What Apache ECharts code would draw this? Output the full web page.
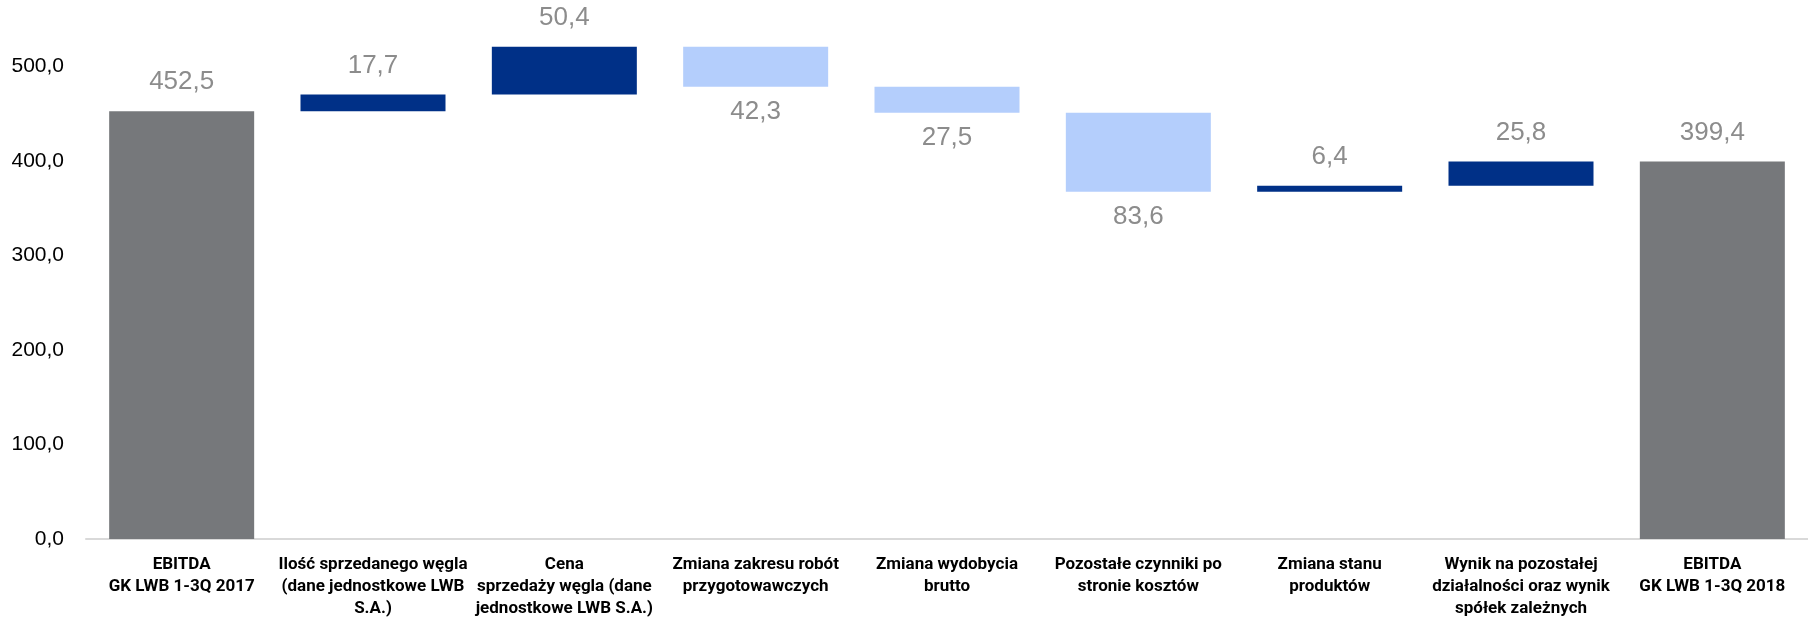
<!DOCTYPE html>
<html>
<head>
<meta charset="utf-8">
<script src="https://cdn.jsdelivr.net/npm/echarts@6/dist/echarts.min.js"></script>
<style>
  html, body { margin: 0; padding: 0; background: #fff; }
  #chart { width: 1808px; height: 620px; }
</style>
</head>
<body>
<div id="chart"></div>
<script>
// EBITDA GK LWB - mostek 1-3Q 2017 -> 1-3Q 2018 (mln zł)
const categories = [
  "EBITDA\nGK LWB 1-3Q 2017",
  "Ilość sprzedanego węgla\n(dane jednostkowe LWB\nS.A.)",
  "Cena\nsprzedaży węgla (dane\njednostkowe LWB S.A.)",
  "Zmiana zakresu robót\nprzygotowawczych",
  "Zmiana wydobycia\nbrutto",
  "Pozostałe czynniki po\nstronie kosztów",
  "Zmiana stanu\nproduktów",
  "Wynik na pozostałej\ndziałalności oraz wynik\nspółek zależnych",
  "EBITDA\nGK LWB 1-3Q 2018"
];
// zmiany (pierwsza i ostatnia pozycja to sumy)
const changes = [452.5, 17.7, 50.4, -42.3, -27.5, -83.6, 6.4, 25.8, 399.4];
const isTotal = [true, false, false, false, false, false, false, false, true];
const yTicks = [0, 100, 200, 300, 400, 500];

const fmt = v => v.toFixed(1).replace(".", ",");

// podstawy (niewidoczne) i słupki wg typu
const base = [], totals = [], ups = [], downs = [];
let level = 0;
changes.forEach((c, i) => {
  if (isTotal[i]) {
    base.push(0); totals.push(c); ups.push("-"); downs.push("-");
    level = c;
  } else if (c >= 0) {
    base.push(level); totals.push("-"); ups.push(c); downs.push("-");
    level += c;
  } else {
    level += c;
    base.push(level); totals.push("-"); ups.push("-"); downs.push(-c);
  }
});

const labelStyle = {
  show: true,
  color: "#8c8c8c",
  fontSize: 26,
  fontFamily: "Liberation Sans",
  formatter: p => fmt(p.value)
};

const chart = echarts.init(document.getElementById("chart"));
chart.setOption({
  animation: false,
  grid: { left: 86, right: 0, top: 19, bottom: 80 },
  xAxis: {
    type: "category",
    data: categories,
    axisTick: { show: false },
    axisLine: { lineStyle: { color: "#d9d9d9", width: 2 } },
    axisLabel: {
      interval: 0,
      margin: 15,
      color: "#000",
      fontWeight: "bold",
      fontSize: 17,
      lineHeight: 22,
      fontFamily: "Roboto, sans-serif"
    }
  },
  yAxis: {
    type: "value",
    min: 0,
    max: 550,
    interval: 100,
    splitLine: { show: false },
    axisLine: { show: false },
    axisTick: { show: false },
    axisLabel: {
      margin: 22,
      color: "#000",
      fontSize: 21,
      fontFamily: "Liberation Sans",
      formatter: v => (yTicks.includes(v) ? fmt(v) : "")
    }
  },
  series: [
    {
      name: "podstawa", type: "bar", stack: "w", data: base,
      barWidth: 145, itemStyle: { color: "transparent" }, silent: true
    },
    {
      name: "EBITDA", type: "bar", stack: "w", data: totals,
      itemStyle: { color: "#76787b" },
      label: Object.assign({}, labelStyle, { position: "top", distance: 16 })
    },
    {
      name: "wzrost", type: "bar", stack: "w", data: ups,
      itemStyle: { color: "#003087" },
      label: Object.assign({}, labelStyle, { position: "top", distance: 16 })
    },
    {
      name: "spadek", type: "bar", stack: "w", data: downs,
      itemStyle: { color: "#b4cefc" },
      label: Object.assign({}, labelStyle, { position: "bottom", distance: 12 })
    }
  ]
});
</script>
</body>
</html>
